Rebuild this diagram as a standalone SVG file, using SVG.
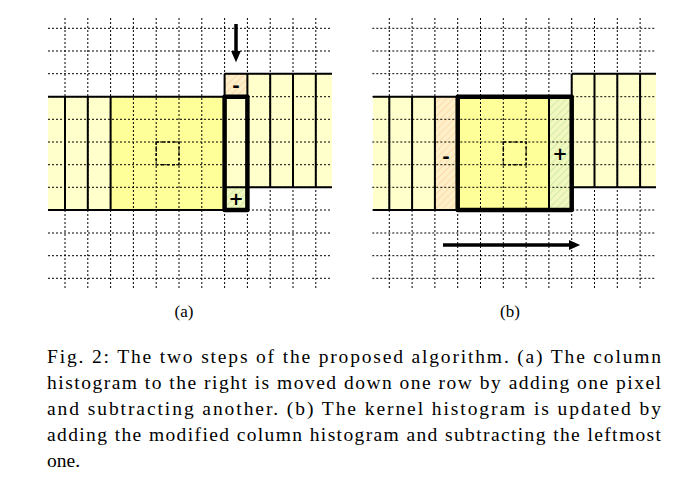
<svg xmlns="http://www.w3.org/2000/svg" width="685" height="492" viewBox="0 0 685 492">
<style>
.grid{stroke:#000;stroke-width:1;stroke-dasharray:2,2;fill:none}
.col{stroke:#000;stroke-width:2;fill:none}
.thick{stroke:#000;stroke-width:4.5;fill:none;stroke-linejoin:round}
.lt{fill:#ffffcc}
.k{fill:#ffff99}
.sym{font-family:"DejaVu Sans",sans-serif;font-weight:bold;font-size:18px;text-anchor:middle}
.lab{font-family:"Liberation Serif",serif;font-size:17px;text-anchor:middle}
.cap{font-family:"Liberation Serif",serif;font-size:19.5px}
</style>
<defs>
<pattern id="ho" width="5" height="5" patternUnits="userSpaceOnUse" patternTransform="rotate(45)"><rect width="5" height="5" fill="#ffefc8"/><line x1="0" y1="0" x2="0" y2="5" stroke="#f6c890" stroke-width="1"/></pattern>
<pattern id="hg" width="5" height="5" patternUnits="userSpaceOnUse" patternTransform="rotate(45)"><rect width="5" height="5" fill="#f0f8c0"/><line x1="0" y1="0" x2="0" y2="5" stroke="#b8dc90" stroke-width="1"/></pattern>
<marker id="ar" markerWidth="4" markerHeight="4" refX="2" refY="2" orient="auto" markerUnits="strokeWidth"><path d="M0,0.6 L3.2,2 L0,3.4Z" fill="#000"/></marker>
<g id="gridA">
<path class="grid" d="M65,18V290M87.8,18V290M110.6,18V290M133.4,18V290M156.2,18V290M179,18V290M201.8,18V290M224.6,18V290M247.4,18V290M270.2,18V290M293,18V290M315.8,18V290M48,28.3H332M48,51H332M48,73.7H332M48,96.7H332M48,119.3H332M48,142H332M48,164.7H332M48,187.3H332M48,210H332M48,233H332M48,255.7H332M48,278.3H332"/>
</g>
</defs>

<g id="panel-a">
<rect class="lt" x="48" y="96.7" width="62.6" height="113.3"/>
<rect class="k" x="110.6" y="96.7" width="114" height="113.3"/>
<rect class="lt" x="224.6" y="73.7" width="107.4" height="113.6"/>
<rect fill="url(#ho)" x="224.6" y="73.7" width="22.8" height="23"/>
<rect fill="url(#hg)" x="224.6" y="187.3" width="22.8" height="22.7"/>
<use href="#gridA"/>
<path class="col" d="M48,96.7H224.6M48,210H224.6M65,96.7V210M87.8,96.7V210M110.6,96.7V210M224.6,73.7H332M224.6,187.3H332M224.6,73.7V96.7M247.4,73.7V187.3M270.2,73.7V187.3M293,73.7V187.3M315.8,73.7V187.3M224.6,187.3H247.4"/>
<rect class="thick" x="224.6" y="96.7" width="22.8" height="113.3"/>
<rect x="156.2" y="142" width="22.8" height="22.7" fill="none" stroke="#000" stroke-width="1.5" stroke-dasharray="3,2.5"/>
<text class="sym" x="236" y="92">-</text>
<text class="sym" x="236" y="205">+</text>
<text class="lab" x="184" y="317">(a)</text>
</g>

<g id="panel-b">
<rect class="lt" x="373" y="96.7" width="61.9" height="113.3"/>
<rect fill="url(#ho)" x="434.9" y="96.7" width="22.8" height="113.3"/>
<rect class="k" x="457.7" y="96.7" width="91.3" height="113.3"/>
<rect fill="url(#hg)" x="549" y="96.7" width="22.7" height="113.3"/>
<rect class="lt" x="571.7" y="73.7" width="84.3" height="113.6"/>
<use href="#gridA" transform="translate(324.3,0)"/>
<path class="col" d="M373,96.7H457.7M373,210H457.7M389.3,96.7V210M412.1,96.7V210M434.9,96.7V210M549,96.7V210M571.7,73.7H656M571.7,187.3H656M571.7,73.7V96.7M594.5,73.7V187.3M617.3,73.7V187.3M640.1,73.7V187.3"/>
<rect class="thick" x="457.7" y="96.7" width="114" height="113.3"/>
<rect x="503.3" y="142" width="22.8" height="22.7" fill="none" stroke="#000" stroke-width="1.5" stroke-dasharray="3,2.5"/>
<text class="sym" x="446" y="163">-</text>
<text class="sym" x="560" y="160">+</text>
<text class="lab" x="510" y="317">(b)</text>
</g>

<g id="connectors">
<line x1="236" y1="24" x2="236" y2="58" stroke="#000" stroke-width="3.5" marker-end="url(#ar)"/>
<line x1="443" y1="245" x2="576" y2="245" stroke="#000" stroke-width="3.5" marker-end="url(#ar)"/>
</g>

<g id="caption">
<text class="cap" x="47" y="363" textLength="614" lengthAdjust="spacing">Fig. 2: The two steps of the proposed algorithm. (a) The column</text>
<text class="cap" x="47" y="389" textLength="614" lengthAdjust="spacing">histogram to the right is moved down one row by adding one pixel</text>
<text class="cap" x="47" y="415" textLength="614" lengthAdjust="spacing">and subtracting another. (b) The kernel histogram is updated by</text>
<text class="cap" x="47" y="441" textLength="614" lengthAdjust="spacing">adding the modified column histogram and subtracting the leftmost</text>
<text class="cap" x="47" y="467">one.</text>
</g>
</svg>
